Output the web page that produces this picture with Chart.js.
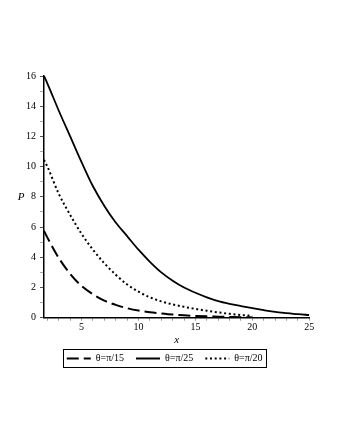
<!DOCTYPE html>
<html>
<head>
<meta charset="utf-8">
<script src="https://cdn.jsdelivr.net/npm/chart.js@4"></script>
<style>
  html, body { margin: 0; padding: 0; background: #fff; }
  #wrap { width: 340px; height: 440px; }
</style>
</head>
<body>
<div id="wrap"><canvas id="chart" width="340" height="440"></canvas></div>
<script>
const xValues = [1.7, 2, 3, 4, 5, 6, 7, 8, 9, 10, 11, 12, 13, 14, 15, 16, 17, 18, 19, 20, 21, 22, 23, 24, 25];

// P for each theta (dashed and dotted stop at x = 20)
const pPi15 = [5.75, 5.3, 3.95, 2.9, 2.1, 1.55, 1.13, 0.85, 0.63, 0.47, 0.36, 0.28, 0.21, 0.16, 0.12, 0.09, 0.07, 0.05, 0.03, 0.02];
const pPi25 = [16.0, 15.5, 13.7, 12.0, 10.3, 8.7, 7.4, 6.3, 5.4, 4.5, 3.7, 3.0, 2.45, 2.0, 1.65, 1.35, 1.1, 0.92, 0.77, 0.63, 0.5, 0.38, 0.3, 0.23, 0.18];
const pPi20 = [10.45, 10.0, 8.2, 6.8, 5.55, 4.5, 3.6, 2.85, 2.2, 1.72, 1.35, 1.08, 0.88, 0.72, 0.58, 0.46, 0.35, 0.26, 0.18, 0.12];

const seriesLabels = ['θ=π/15', 'θ=π/25', 'θ=π/20'];
const xTickLabels = [5, 10, 15, 20, 25];
const yTickLabels = [0, 2, 4, 6, 8, 10, 12, 14, 16];

const serif = '"Liberation Serif", "DejaVu Serif", serif';
Chart.defaults.font.family = serif;
Chart.defaults.font.size = 10;
Chart.defaults.color = '#000';

function toPoints(ys) {
    return ys.map((y, i) => ({ x: xValues[i], y: y }));
}

// axis letters and the frame around the legend
const extras = {
    id: 'extras',
    afterDraw(chart) {
        const ctx = chart.ctx;
        const xs = chart.scales.x;
        const ys = chart.scales.y;
        ctx.save();
        ctx.fillStyle = '#000';
        ctx.font = 'italic 11px ' + serif;
        ctx.textAlign = 'center';
        ctx.textBaseline = 'middle';
        ctx.fillText('P', chart.chartArea.left - 23, ys.getPixelForValue(8));
        ctx.fillText('x', (xs.left + xs.right) / 2, xs.bottom - 1);

        const boxes = chart.legend.legendHitBoxes;
        if (boxes && boxes.length) {
            const left = Math.min(...boxes.map(b => b.left));
            const right = Math.max(...boxes.map(b => b.left + b.width));
            const top = boxes[0].top;
            const h = boxes[0].height;
            ctx.strokeStyle = '#000';
            ctx.lineWidth = 1;
            ctx.strokeRect(Math.round(left - 4) + 0.5, Math.round(top - 4.5) + 0.5, Math.round(right - left + 7), Math.round(h + 8));
        }
        ctx.restore();
    }
};

const ctx = document.getElementById('chart').getContext('2d');
const chart = new Chart(ctx, {
    type: 'line',
    data: {
        datasets: [
            {
                label: seriesLabels[0],
                data: toPoints(pPi15),
                borderColor: '#000',
                backgroundColor: '#000',
                borderWidth: 2,
                borderDash: [12, 5]
            },
            {
                label: seriesLabels[1],
                data: toPoints(pPi25),
                borderColor: '#000',
                backgroundColor: '#000',
                borderWidth: 1.8
            },
            {
                label: seriesLabels[2],
                data: toPoints(pPi20),
                borderColor: '#000',
                backgroundColor: '#000',
                borderWidth: 2,
                borderDash: [2, 2.7]
            }
        ]
    },
    options: {
        responsive: false,
        animation: false,
        elements: {
            point: { radius: 0 },
            line: { cubicInterpolationMode: 'monotone', fill: false }
        },
        layout: { padding: { left: 20, right: 30.7, top: 76, bottom: 66.5 } },
        plugins: {
            tooltip: { enabled: false },
            legend: {
                position: 'bottom',
                labels: {
                    usePointStyle: true,
                    pointStyle: 'line',
                    pointStyleWidth: 24,
                    padding: 12,
                    color: '#000',
                    font: { size: 10, family: serif },
                    // point style labels lose the dataset dash, so copy it back
                    generateLabels: (chart) => {
                        const items = Chart.defaults.plugins.legend.labels.generateLabels(chart);
                        return items.map((item, i) => {
                            const ds = chart.data.datasets[item.datasetIndex ?? i];
                            item.lineDash = ds.borderDash || [];
                            item.lineWidth = ds.borderWidth;
                            item.strokeStyle = '#000';
                            return item;
                        });
                    }
                }
            }
        },
        scales: {
            x: {
                type: 'linear',
                min: 1.7,
                max: 25,
                afterFit: (scale) => { scale.height = 23.8; },
                border: { color: '#000', width: 1.5 },
                grid: { drawOnChartArea: false, drawTicks: true, tickLength: 3, tickColor: '#999' },
                ticks: {
                    stepSize: 1,
                    includeBounds: false,
                    autoSkip: false,
                    maxRotation: 0,
                    padding: 1,
                    callback: (v) => xTickLabels.includes(v) ? String(v) : ''
                }
            },
            y: {
                min: 0,
                max: 16,
                afterFit: (scale) => { scale.width = 24; },
                border: { color: '#000', width: 1.5 },
                grid: {
                    drawOnChartArea: false,
                    drawTicks: true,
                    tickLength: 4,
                    tickColor: (c) => yTickLabels.includes(c.tick.value) ? '#555' : '#aaa'
                },
                ticks: {
                    stepSize: 1,
                    autoSkip: false,
                    padding: 4,
                    callback: (v) => yTickLabels.includes(v) ? String(v) : ''
                }
            }
        }
    },
    plugins: [extras]
});
</script>
</body>
</html>
